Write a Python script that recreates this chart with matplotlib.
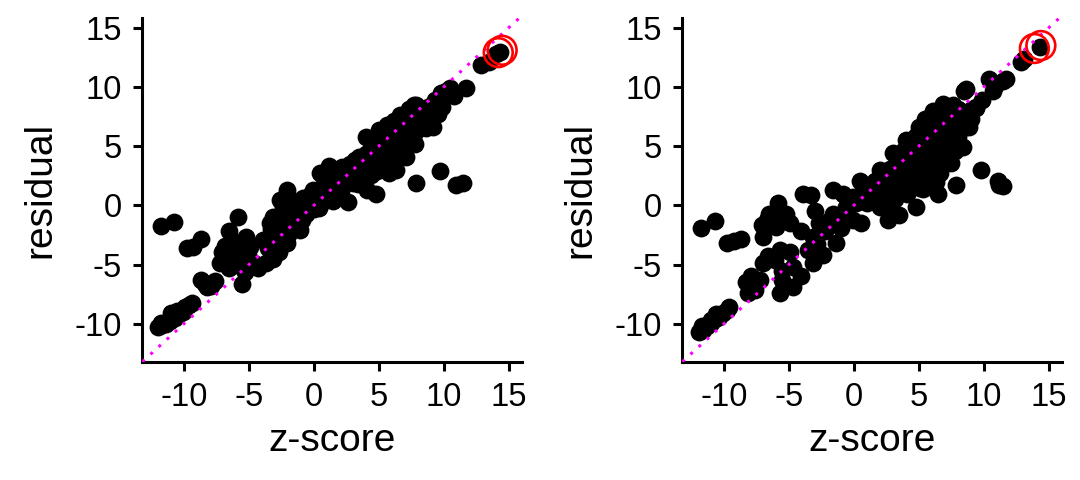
import numpy as np
import matplotlib
matplotlib.use('Agg')
import matplotlib.pyplot as plt

plt.rcParams['font.family'] = ['Liberation Sans', 'DejaVu Sans']
plt.rcParams['axes.unicode_minus'] = False

# left panel points (z-score, residual)
left_pts = [
    # low tail
    (-12.0, -10.3), (-11.7, -10.1), (-11.4, -10.0), (-11.1, -9.8), (-11.0, -9.1),
    (-10.7, -9.5), (-10.4, -9.2), (-10.1, -9.0), (-9.9, -8.6), (-9.6, -8.4),
    (-9.4, -8.2), (-11.8, -9.9), (-10.5, -8.9),
    # off-line points
    (-11.8, -1.7), (-10.8, -1.4), (-9.8, -3.6), (-9.3, -3.5), (-8.7, -2.8),
    (-8.7, -6.3), (-8.4, -6.6), (-8.2, -6.9), (-7.6, -6.4), (-7.9, -6.8),
    # cluster near -6
    (-5.8, -1.0), (-6.5, -2.2), (-5.2, -2.7), (-7.1, -3.9), (-7.25, -4.9),
    (-6.0, -4.3), (-5.5, -6.6), (-6.5, -5.3), (-4.9, -3.5), (-6.8, -3.4),
    (-6.2, -3.0), (-5.6, -3.8), (-6.9, -4.4), (-5.8, -5.0), (-5.3, -5.6),
    (-6.3, -4.8), (-5.0, -4.4), (-4.6, -4.9), (-4.3, -5.3),
    # band
    (-3.7, -4.9), (-3.15, -4.5), (-3.9, -2.9), (-3.15, -1.0), (-2.1, 1.0),
    (-2.6, 0.45), (-3.4, -1.5), (-1.1, -2.1), (-2.1, -3.2), (-0.6, -0.7),
    (0.2, 0.45), (0.7, 1.6), (-3.5, -3.6), (-2.8, -2.4), (-2.5, -1.2),
    (-1.8, -0.5), (-1.5, -1.6), (-1.0, -0.2), (-0.4, 0.8), (0.0, -0.3),
    (-2.9, -3.8), (-2.4, -0.1),
    (-3.0, -3.0), (-3.3, -2.0), (-2.7, -3.9), (-2.0, -2.5), (-2.3, -1.8),
    (-1.9, 0.3), (-1.7, -1.2), (-1.3, -1.0), (-0.9, -1.2), (-0.8, 0.6),
    (-0.4, -0.3), (0.1, 1.2), (0.4, -0.2), (0.0, 0.6),
    # middle
    (-2.1, 1.3), (1.2, 3.3), (2.75, 3.5), (4.8, 1.0), (7.9, 1.9),
    (9.75, 2.9), (10.95, 1.7), (11.5, 1.85), (6.3, 3.0), (5.05, 6.35),
    (7.9, 8.5), (8.65, 7.5), (9.15, 6.6), (10.7, 9.45), (3.5, 4.1),
    (4.3, 4.7), (6.85, 6.35), (7.1, 4.1), (5.8, 2.7), (-0.1, 1.3),
    (-1.1, 0.17), (2.0, 0.7), (3.0, 1.85), (0.45, 2.7), (1.35, 3.1),
    (0.8, 0.4), (1.5, 1.2), (2.2, 1.8), (2.5, 2.6), (3.3, 2.8),
    (3.8, 3.4), (4.2, 2.5), (4.6, 3.6), (5.0, 4.2), (5.4, 5.0),
    (5.9, 5.6), (6.2, 4.6), (6.6, 5.3), (4.5, 5.5), (4.0, 5.8),
    (5.6, 6.8), (6.2, 7.1), (6.6, 7.6), (7.0, 6.9), (7.4, 7.3),
    (7.6, 5.8), (8.0, 6.7), (8.3, 7.6), (7.3, 8.1), (8.8, 8.3),
    (9.3, 8.9), (9.8, 9.5), (10.2, 9.7), (10.5, 9.9), (6.0, 3.6),
    (5.3, 3.2), (7.8, 5.2), (3.2, 3.8), (1.8, 2.3), (0.9, 1.9),
    (4.1, 1.3), (2.6, 0.3),
    (1.0, 0.8), (1.1, 2.4), (0.6, 0.9), (1.5, 0.4), (2.1, 1.2),
    (1.8, 2.9), (2.4, 2.2), (2.2, 3.2), (2.9, 2.3), (3.1, 3.4),
    (3.4, 1.8), (3.7, 2.7), (3.9, 3.9), (4.2, 3.2), (4.0, 4.3),
    (4.4, 2.6), (4.9, 2.9), (5.1, 5.5), (5.2, 3.8), (4.7, 4.9),
    (5.8, 3.3), (6.0, 6.6), (6.3, 5.0), (5.7, 4.8), (6.4, 4.0),
    (6.8, 4.9), (7.0, 7.6), (7.2, 6.3), (6.7, 6.0), (7.9, 6.3),
    (8.1, 7.8), (8.4, 7.1), (7.7, 7.0), (9.0, 7.4), (9.2, 8.3),
    (8.7, 8.0),
    # upper end
    (11.7, 9.95), (10.8, 9.2), (9.9, 8.3), (9.55, 7.75), (8.65, 6.5),
    (7.75, 8.45), (12.9, 11.85), (13.5, 12.1), (14.3, 12.95), (14.0, 12.8),
]
left_hi = [(14.2, 12.9), (14.5, 13.1)]

# right panel points
right_pts = [
    (-11.9, -10.7), (-11.6, -10.5), (-11.3, -10.2), (-11.0, -9.9), (-10.7, -9.6),
    (-11.0, -9.7), (-10.4, -9.4), (-10.1, -9.1), (-9.8, -8.8), (-9.6, -8.6),
    (-11.7, -10.2), (-10.6, -9.2),
    (-11.8, -1.95), (-10.7, -1.3), (-9.8, -3.2), (-9.2, -3.0), (-8.7, -2.8),
    (-8.3, -6.45), (-7.9, -6.0), (-8.15, -7.4), (-7.25, -6.3), (-7.6, -7.15),
    (-7.0, -4.9), (-6.1, -4.6), (-5.7, -3.8), (-4.95, -3.9), (-5.7, -7.4),
    (-4.7, -6.9), (-5.5, -6.3), (-4.05, -6.0), (-4.7, -5.2), (-5.5, -5.5),
    (-6.6, -4.3),
    (-5.8, 0.2), (-6.5, -0.7), (-7.1, -1.65), (-7.0, -2.65), (-6.0, -1.8),
    (-4.95, -1.5), (-5.2, -0.7), (-4.05, -2.2), (-3.9, 1.0), (-3.3, 0.87),
    (-1.6, 1.3), (-0.85, 1.0), (-6.7, -1.2), (-5.6, -1.2),
    (-3.5, -3.8), (-3.15, -4.9), (-2.4, -4.2), (-2.65, -1.5), (-3.15, -2.65),
    (-1.6, -0.7), (-1.35, -3.2), (-0.1, -1.25), (0.55, -1.5), (-0.6, -0.1),
    (0.95, 0.45), (2.0, -0.1), (0.95, 1.6), (-2.2, -2.2), (-1.9, -1.3),
    (-2.8, -3.3), (-1.0, -1.9), (-0.5, -0.8), (0.2, 0.2), (-3.0, -0.5),
    (2.6, -1.25), (3.5, -0.8), (4.8, -0.1), (6.45, 1.0), (7.9, 1.7),
    (11.2, 1.7), (11.45, 1.6), (5.3, 1.4), (1.7, 0.45), (9.8, 3.0),
    (11.1, 2.1), (0.45, 2.1), (2.0, 3.0), (2.75, 3.1), (3.75, 4.1),
    (4.0, 5.5), (5.05, 6.6), (6.1, 8.0), (6.85, 8.6), (7.6, 8.45),
    (8.65, 6.6), (8.4, 4.95), (7.1, 4.4), (6.6, 2.7), (5.8, 1.6),
    (8.65, 9.85), (9.4, 8.3), (10.7, 9.7), (11.5, 10.5), (2.5, 1.6),
    (-0.1, 0.7), (1.6, 2.1), (6.1, 4.1), (5.05, 4.95), (3.75, 2.1),
    (2.75, -0.4),
    (1.2, 1.0), (3.1, 2.5), (3.4, 3.3), (4.3, 3.0), (4.6, 4.0),
    (4.4, 4.8), (5.4, 3.3), (5.7, 5.5), (6.3, 5.8), (6.6, 6.6),
    (7.2, 7.0), (7.6, 6.2), (7.9, 7.5), (8.2, 8.0), (5.5, 7.3),
    (4.8, 5.9), (6.2, 7.3), (7.0, 5.2), (7.5, 3.6), (8.0, 5.8),
    (9.0, 7.3), (3.0, 4.4), (2.3, 2.3), (4.1, 1.0),
    (1.0, 0.2), (1.3, 1.7), (0.7, 1.2), (2.2, 1.0), (1.8, 1.4),
    (2.4, 2.7), (3.0, 1.2), (3.2, 0.5), (2.9, 3.1), (3.4, 1.9),
    (3.9, 2.8), (4.2, 3.8), (4.0, 1.8), (4.5, 2.2), (3.8, 4.6),
    (5.0, 2.2), (5.2, 3.9), (4.9, 5.2), (5.4, 6.0), (5.6, 2.6),
    (5.1, 1.5), (6.0, 3.1), (6.2, 5.0), (5.9, 6.6), (6.4, 7.3),
    (6.3, 2.0), (5.8, 4.5), (7.0, 3.9), (6.9, 6.1), (7.3, 7.9),
    (6.8, 7.2), (7.3, 5.4), (7.1, 8.3), (7.8, 4.6), (8.1, 6.3),
    (8.0, 8.1), (7.7, 5.3), (8.3, 7.1), (8.8, 7.4), (9.1, 8.1),
    (8.9, 6.6),
    (8.5, 9.7), (11.7, 10.7), (10.4, 10.7), (9.9, 8.9), (9.4, 8.2),
    (12.9, 12.1), (13.1, 12.4), (14.3, 13.4), (10.9, 10.1),
]
right_hi = [(13.9, 13.25), (14.4, 13.5)]

ticks = [-10, -5, 0, 5, 10, 15]
xlim = (-13.2, 16.0)
ylim = (-13.25, 15.8)

fig = plt.figure(figsize=(10.8, 4.8), dpi=100)
ax1 = fig.add_axes([0.1318, 0.2452, 0.3512, 0.7167])
ax2 = fig.add_axes([0.6318, 0.2452, 0.3512, 0.7167])

for ax, pts, hi in [(ax1, left_pts, left_hi), (ax2, right_pts, right_hi)]:
    p = np.array(pts)
    h = np.array(hi)
    ax.scatter(p[:, 0], p[:, 1], s=165, c='black', linewidths=0, zorder=2)
    ax.axline((0, 0), slope=1, color='#FF00FF', lw=2.2,
              linestyle=(0, (1, 2.6)), zorder=3)
    ax.scatter(h[:, 0], h[:, 1], s=430, facecolors='none', edgecolors='red',
               linewidths=1.9, zorder=4)
    ax.set_xlim(xlim)
    ax.set_ylim(ylim)
    ax.set_xticks(ticks)
    ax.set_yticks(ticks)
    ax.spines['top'].set_visible(False)
    ax.spines['right'].set_visible(False)
    ax.spines['left'].set_linewidth(2.2)
    ax.spines['bottom'].set_linewidth(2.2)
    ax.tick_params(width=2.2, length=6.5, labelsize=23.5, pad=8)
    ax.set_xlabel('z-score', fontsize=28, labelpad=7)
    ax.set_ylabel('residual', fontsize=28, labelpad=12)

fig.savefig('out.png', dpi=100)
